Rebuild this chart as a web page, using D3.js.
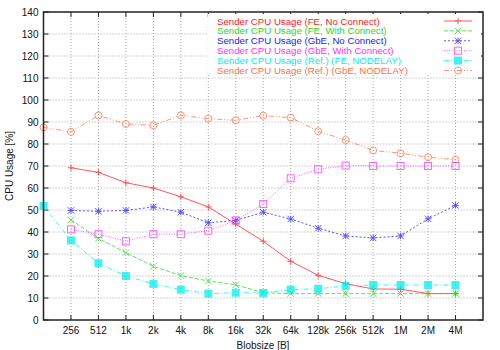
<!DOCTYPE html>
<html lang="en">
<head>
<meta charset="UTF-8">
<title>CPU usage</title>
<script src="https://cdn.jsdelivr.net/npm/d3@7"></script>
<style>
  body { margin: 0; background: #fff; }
  text { font-family: "Liberation Sans", Arial, sans-serif; font-size: 10px; }
  .grid line { stroke: #a8a8a8; stroke-width: 1; stroke-dasharray: 1,2; }
  .frame { fill: none; stroke: #222; stroke-width: 1.5; }
</style>
</head>
<body>
<svg width="500" height="350"></svg>
<script>
// x categories (index 0 = 128 B, unlabeled)
var sizes = ["128", "256", "512", "1k", "2k", "4k", "8k", "16k", "32k", "64k", "128k", "256k", "512k", "1M", "2M", "4M"];
var yTicks = [0, 10, 20, 30, 40, 50, 60, 70, 80, 90, 100, 110, 120, 130, 140];

// values per blobsize index; null = no point
var feNoConnect   = [null, 69.2, 67.1, 62.4, 60.0, 56.0, 51.4, 43.6, 35.8, 26.7, 20.3, 16.5, 14.1, 14.0, 12.0, 12.0];
var feWithConnect = [null, 45.5, 37.1, 30.6, 24.4, 20.2, 17.7, 16.0, 12.4, 12.0, 12.0, 12.0, 12.0, 12.0, 12.0, 12.0];
var gbeNoConnect  = [null, 49.8, 49.4, 49.8, 51.4, 49.0, 44.2, 45.3, 49.0, 45.9, 41.7, 38.2, 37.3, 38.2, 46.0, 52.1];
var gbeWithConnect = [null, 41.2, 39.0, 35.8, 39.0, 39.0, 40.6, 45.3, 52.7, 64.4, 68.5, 70.2, 70.0, 70.0, 70.0, 70.0];
var refFe  = [51.8, 36.2, 25.8, 20.0, 16.4, 13.8, 12.0, 12.4, 12.3, 13.8, 14.2, 15.5, 15.9, 15.9, 15.9, 15.9];
var refGbe = [87.6, 85.5, 93.0, 89.1, 88.5, 93.0, 91.5, 90.8, 92.9, 92.0, 85.8, 81.8, 77.1, 75.8, 74.0, 72.9];

var series = [
  { name: "Sender CPU Usage (FE, No Connect)", values: feNoConnect, color: "#ff2020", dash: null, mark: "plus" },
  { name: "Sender CPU Usage (FE, With Connect)", values: feWithConnect, color: "#20e020", dash: "4,2", mark: "cross" },
  { name: "Sender CPU Usage (GbE, No Connect)", values: gbeNoConnect, color: "#2020ff", dash: "2,2", mark: "star" },
  { name: "Sender CPU Usage (GbE, With Connect)", values: gbeWithConnect, color: "#ff30ff", dash: "1,1.5", mark: "box" },
  { name: "Sender CPU Usage (Ref.) (FE, NODELAY)", values: refFe, color: "#00f0f0", dash: "5,2,1,2", mark: "fbox" },
  { name: "Sender CPU Usage (Ref.) (GbE, NODELAY)", values: refGbe, color: "#ff7040", dash: "5,2,1,2,1,2", mark: "circle" }
];

var svg = d3.select("svg");
var pLeft = 43.5, pRight = 483, pTop = 12, pBottom = 320;

var x = d3.scaleLinear().domain([0, 16]).range([pLeft, pRight]);
var y = d3.scaleLinear().domain([0, 140]).range([pBottom, pTop]);

// grid
var grid = svg.append("g").attr("class", "grid");
grid.selectAll(".gx").data(d3.range(1, 16)).enter().append("line")
  .attr("x1", d => x(d)).attr("x2", d => x(d)).attr("y1", pTop).attr("y2", pBottom);
grid.selectAll(".gy").data(yTicks.slice(1, -1)).enter().append("line")
  .attr("x1", pLeft).attr("x2", pRight).attr("y1", d => y(d)).attr("y2", d => y(d));

// ticks on all four sides (inward)
var ticks = svg.append("g").attr("stroke", "#222").attr("stroke-width", 1);
d3.range(1, 16).forEach(function(i) {
  ticks.append("line").attr("x1", x(i)).attr("x2", x(i)).attr("y1", pBottom).attr("y2", pBottom - 5);
  ticks.append("line").attr("x1", x(i)).attr("x2", x(i)).attr("y1", pTop).attr("y2", pTop + 5);
});
yTicks.forEach(function(v) {
  ticks.append("line").attr("x1", pLeft).attr("x2", pLeft + 5).attr("y1", y(v)).attr("y2", y(v));
  ticks.append("line").attr("x1", pRight).attr("x2", pRight - 5).attr("y1", y(v)).attr("y2", y(v));
});

// legend background (hides grid under keys)
svg.append("rect").attr("x", 208).attr("y", 14).attr("width", 273).attr("height", 61).attr("fill", "#fff");

// tick labels
svg.append("g").selectAll("text").data(yTicks).enter().append("text")
  .attr("x", pLeft - 5).attr("y", d => y(d) + 3.5).attr("text-anchor", "end").attr("fill", "#111")
  .text(d => d);
svg.append("g").selectAll("text").data(sizes.slice(1)).enter().append("text")
  .attr("x", (d, i) => x(i + 1)).attr("y", pBottom + 14).attr("text-anchor", "middle").attr("fill", "#111")
  .text(d => d);

svg.append("text").attr("x", 263).attr("y", 349).attr("text-anchor", "middle").attr("fill", "#111").text("Blobsize [B]");
svg.append("text").attr("transform", "translate(13," + ((pTop + pBottom) / 2) + ") rotate(-90)")
  .attr("text-anchor", "middle").attr("fill", "#111").text("CPU Usage [%]");

function marker(g, type, cx, cy, color) {
  var s = 3.2;
  if (type === "plus" || type === "star") {
    g.append("path").attr("d", "M" + (cx - s) + "," + cy + "H" + (cx + s) + "M" + cx + "," + (cy - s) + "V" + (cy + s))
      .attr("stroke", color).attr("fill", "none");
  }
  if (type === "cross" || type === "star") {
    g.append("path").attr("d", "M" + (cx - s) + "," + (cy - s) + "L" + (cx + s) + "," + (cy + s) + "M" + (cx - s) + "," + (cy + s) + "L" + (cx + s) + "," + (cy - s))
      .attr("stroke", color).attr("fill", "none");
  }
  if (type === "box") {
    g.append("rect").attr("x", cx - 3.5).attr("y", cy - 3.5).attr("width", 7).attr("height", 7)
      .attr("stroke", color).attr("fill", "none");
  }
  if (type === "fbox") {
    g.append("rect").attr("x", cx - 4).attr("y", cy - 4).attr("width", 8).attr("height", 8)
      .attr("fill", color);
  }
  if (type === "circle") {
    g.append("circle").attr("cx", cx).attr("cy", cy).attr("r", 3.5)
      .attr("stroke", color).attr("fill", "none");
  }
}

var line = d3.line().defined(d => d != null).x((d, i) => x(i)).y(d => y(d));

var keyTexts = [];
series.forEach(function(s, k) {
  var g = svg.append("g").attr("opacity", 0.75);
  g.append("path").datum(s.values).attr("d", line)
    .attr("fill", "none").attr("stroke", s.color).attr("stroke-width", 1)
    .attr("stroke-dasharray", s.dash);
  s.values.forEach(function(v, i) {
    if (v != null) marker(g, s.mark, x(i), y(v), s.color);
  });

  // legend entry
  var ly = 21 + k * 9.9;
  keyTexts.push(svg.append("text").attr("x", 217).attr("y", ly + 3.5).attr("fill", s.color).text(s.name));
  var lg = svg.append("g").attr("opacity", 0.75);
  lg.append("line").attr("x1", 444).attr("x2", 472).attr("y1", ly).attr("y2", ly)
    .attr("stroke", s.color).attr("stroke-dasharray", s.dash);
  marker(lg, s.mark, 458, ly, s.color);
});

// key font: widen so the first entry spans ~163px like the original key
var w0 = keyTexts[0].node().getComputedTextLength();
var keySize = Math.min(12, 10 * 163 / w0);
keyTexts.forEach(t => t.style("font-size", keySize + "px"));

// frame
svg.append("rect").attr("class", "frame").attr("x", pLeft).attr("y", pTop)
  .attr("width", pRight - pLeft).attr("height", pBottom - pTop);
</script>
</body>
</html>
